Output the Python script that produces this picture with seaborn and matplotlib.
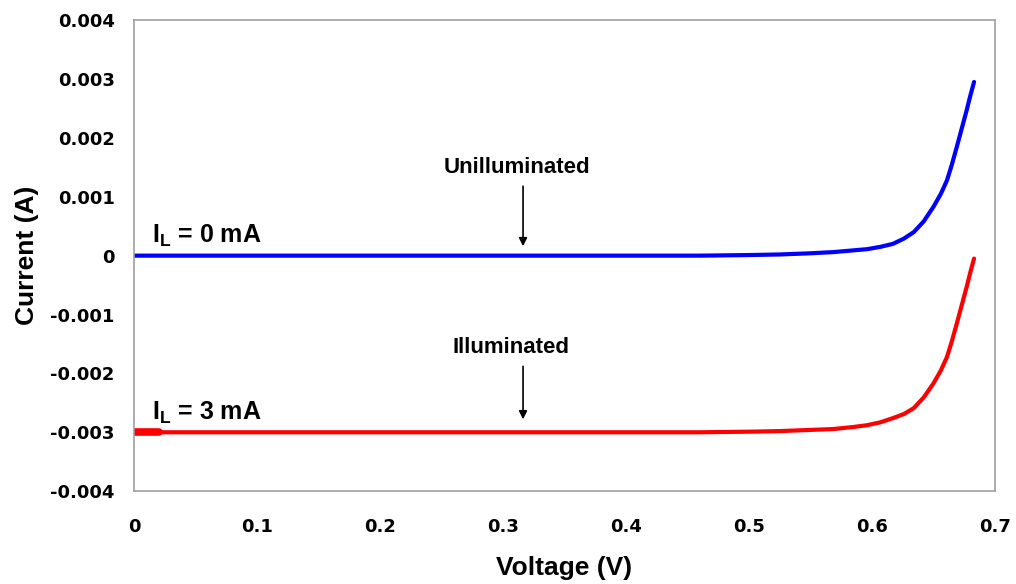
import numpy as np
import pandas as pd
import seaborn as sns
import matplotlib.pyplot as plt

# I-V curve of a solar cell
voltage_dark = [0, 0.02, 0.1, 0.2, 0.3, 0.4, 0.46, 0.50, 0.525, 0.55, 0.5685, 0.585, 0.596,
                0.607, 0.617, 0.626, 0.634, 0.642, 0.650, 0.656, 0.661, 0.665, 0.669,
                0.673, 0.677, 0.680, 0.683]
current_dark = [0, 0, 0, 0, 0, 0, 0, 0.00001, 0.00002, 0.00004, 0.00006, 0.00009, 0.00011,
                0.00015, 0.0002, 0.00029, 0.0004, 0.00058, 0.00083, 0.00105, 0.00128,
                0.00155, 0.00185, 0.00216, 0.00247, 0.00272, 0.00295]

voltage_light = [0, 0.02, 0.1, 0.2, 0.3, 0.4, 0.46, 0.50, 0.525, 0.55, 0.5685, 0.585, 0.596,
                 0.607, 0.617, 0.626, 0.634, 0.642, 0.650, 0.656, 0.661, 0.665, 0.669,
                 0.673, 0.677, 0.680, 0.683]
current_light = [-0.003, -0.003, -0.003, -0.003, -0.003, -0.003, -0.003, -0.00299, -0.00298,
                 -0.00296, -0.002945, -0.00291, -0.00288, -0.00283, -0.00276, -0.00269,
                 -0.00259, -0.00241, -0.00217, -0.00195, -0.00172, -0.00145, -0.00115,
                 -0.00084, -0.00053, -0.00028, -0.00005]

# short thicker stub at the start of the illuminated curve
stub_voltage = [0, 0.02]
stub_current = [-0.003, -0.003]

x_ticks = [0, 0.1, 0.2, 0.3, 0.4, 0.5, 0.6, 0.7]
x_tick_labels = ["0", "0.1", "0.2", "0.3", "0.4", "0.5", "0.6", "0.7"]
y_ticks = [-0.004, -0.003, -0.002, -0.001, 0, 0.001, 0.002, 0.003, 0.004]
y_tick_labels = ["-0.004", "-0.003", "-0.002", "-0.001", "0",
                 "0.001", "0.002", "0.003", "0.004"]

dark = pd.DataFrame({"V": voltage_dark, "I": current_dark})
light = pd.DataFrame({"V": voltage_light, "I": current_light})
stub = pd.DataFrame({"V": stub_voltage, "I": stub_current})

sns.set_style("white")
plt.rcParams["font.family"] = ["Liberation Sans", "DejaVu Sans"]
plt.rcParams["font.weight"] = "bold"
plt.rcParams["text.color"] = "black"
plt.rcParams["axes.labelcolor"] = "black"
plt.rcParams["xtick.color"] = "black"
plt.rcParams["ytick.color"] = "black"

fig = plt.figure(figsize=(10.16, 5.84), dpi=100)
ax = fig.add_axes([0.1319, 0.159, 0.8474, 0.8065])

sns.lineplot(data=dark, x="V", y="I", color="#0000ff", linewidth=3, ax=ax, sort=False)
sns.lineplot(data=light, x="V", y="I", color="#ff0000", linewidth=3, ax=ax, sort=False)
sns.lineplot(data=stub, x="V", y="I", color="#ff0000", linewidth=5.5, ax=ax, sort=False)

ax.set_xlim(0, 0.7)
ax.set_ylim(-0.004, 0.004)
ax.set_xticks(x_ticks)
ax.set_xticklabels(x_tick_labels)
ax.set_yticks(y_ticks)
ax.set_yticklabels(y_tick_labels)
ax.tick_params(length=0)
ax.tick_params(axis="x", pad=19)
ax.tick_params(axis="y", pad=14)
for lab in ax.get_xticklabels() + ax.get_yticklabels():
    lab.set_fontweight("bold")
    lab.set_fontfamily("DejaVu Sans")
    lab.set_fontsize(13)

ax.set_xlabel("Voltage (V)", fontsize=19, fontweight="bold", labelpad=15)
ax.set_ylabel("Current (A)", fontsize=19, fontweight="bold", labelpad=8)

for sp in ax.spines.values():
    sp.set_color("#a0a0a0")
    sp.set_linewidth(1.2)

# curve labels
ax.text(0.015, 0.00022, r"I$_\mathregular{L}$ = 0 mA", fontsize=18, fontweight="bold")
ax.text(0.015, -0.00278, r"I$_\mathregular{L}$ = 3 mA", fontsize=18, fontweight="bold")

# captions with arrows
ax.text(0.3114, 0.00150, "Unilluminated", ha="center", va="center",
        fontsize=16, fontweight="bold")
ax.text(0.3065, -0.00156, "Illuminated", ha="center", va="center",
        fontsize=16, fontweight="bold")
arrow = dict(arrowstyle="-|>", color="black", lw=1.2, shrinkA=0, shrinkB=0,
             mutation_scale=12)
ax.annotate("", xy=(0.3163, 0.00016), xytext=(0.3163, 0.00118), arrowprops=arrow)
ax.annotate("", xy=(0.3163, -0.00278), xytext=(0.3163, -0.00188), arrowprops=arrow)

plt.savefig("out.png", dpi=100)
